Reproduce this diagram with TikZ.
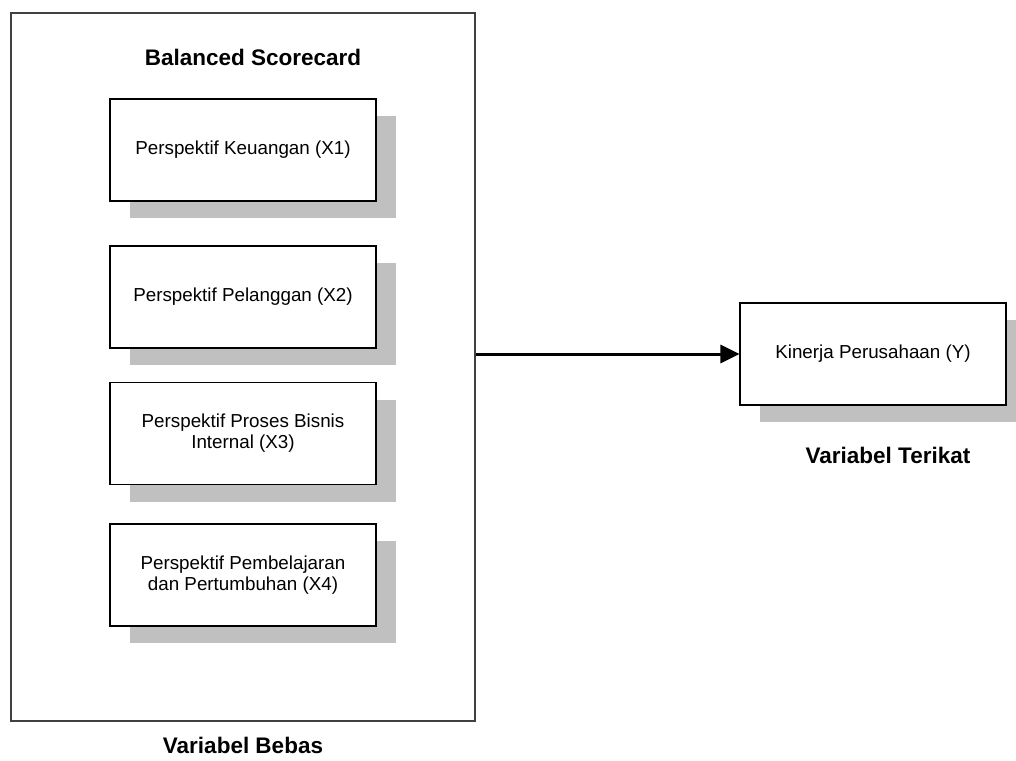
\documentclass[tikz,border=0pt]{standalone}
\usepackage{fontspec}
\setmainfont{Liberation Sans}
\usetikzlibrary{shadows,arrows.meta}
\definecolor{shadowgray}{HTML}{C0C0C0}
\tikzset{
  persbox/.style={draw=black, line width=1.2pt, fill=white, minimum width=266pt, minimum height=102pt,
    inner sep=0pt, align=center, font=\fontsize{18.8}{21}\selectfont,
    drop shadow={shadow xshift=20pt, shadow yshift=-17pt, fill=shadowgray, opacity=1}},
  outerbox/.style={draw=black!75, line width=1.4pt, minimum width=464pt, minimum height=708pt, inner sep=0pt},
  boldlabel/.style={font=\fontsize{22.5}{26}\selectfont\bfseries, inner sep=0pt},
  mainarrow/.style={line width=3pt, -{Triangle[length=19pt,width=18pt]}}
}
\begin{document}
\begin{tikzpicture}[x=1pt,y=-1pt]
\useasboundingbox (0,0) rectangle (1016,760);
\clip (0,0) rectangle (1016,760);
\node[outerbox] (outer) at (243,367) {};
\node[boldlabel] (title) at (253,57) {Balanced Scorecard};
\node[persbox] (x1) at (243,150) {Perspektif Keuangan (X1)};
\node[persbox] (x2) at (243,297) {Perspektif Pelanggan (X2)};
\node[persbox] (x3) at (243,433.5) {Perspektif Proses Bisnis\\Internal (X3)};
\node[persbox] (x4) at (243,575) {Perspektif Pembelajaran\\dan Pertumbuhan (X4)};
\node[persbox] (y) at (873,354) {Kinerja Perusahaan (Y)};
\node[boldlabel] (bebas) at (243,745) {Variabel Bebas};
\node[boldlabel] (terikat) at (888,455) {Variabel Terikat};
\draw[mainarrow] (y.west -| outer.east) -- (y.west);
\end{tikzpicture}
\end{document}
